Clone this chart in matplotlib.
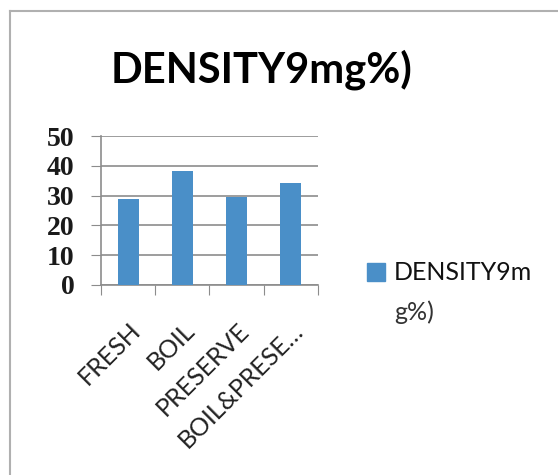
import matplotlib
matplotlib.use("Agg")
import matplotlib.pyplot as plt
from matplotlib.lines import Line2D

categories = ["FRESH", "BOIL", "PRESERVE", "BOIL&PRESE\u2026"]
density = [28.8, 38.4, 29.6, 34.3]
y_ticks = [0, 10, 20, 30, 40, 50]
series_name = "DENSITY9mg%)"

BAR_COLOR = "#4a8fc8"
GRID_COLOR = "#8c8c8c"

fig = plt.figure(figsize=(5.58, 4.75), dpi=100)
fig.patch.set_facecolor("white")

# chart frame: only the left and top edges show
fig.add_artist(Line2D([10 / 558, 10 / 558], [0, 1 - 11 / 475], transform=fig.transFigure,
                      color="#b0b0b0", lw=1.5))
fig.add_artist(Line2D([10 / 558, 1], [1 - 11 / 475, 1 - 11 / 475], transform=fig.transFigure,
                      color="#b0b0b0", lw=1.5))

ax = fig.add_axes([101 / 558, 1 - 285 / 475, 217 / 558, 149 / 475])
x = list(range(len(categories)))
ax.bar(x, density, width=0.39, color=BAR_COLOR, zorder=3)

ax.set_xlim(-0.5, len(categories) - 0.5)
ax.set_ylim(0, 50)
ax.set_yticks(y_ticks)
ax.set_yticklabels([str(v) for v in y_ticks], family="Liberation Serif", fontsize=20,
                   fontweight="bold", color="#1a1a1a")
ax.tick_params(axis="y", length=7, color=GRID_COLOR, pad=12)
ax.yaxis.grid(True, color=GRID_COLOR, lw=1.2, zorder=0)

# category boundaries carry the tick marks; names sit at the centres
ax.set_xticks([i - 0.5 for i in range(len(categories) + 1)])
ax.set_xticklabels([])
ax.tick_params(axis="x", which="major", length=7, color=GRID_COLOR)
ax.set_xticks(x, minor=True)
ax.set_xticklabels(categories, minor=True, rotation=45, ha="right", va="top",
                   rotation_mode="anchor", family="Lato", fontsize=18, color="#222222")
ax.tick_params(axis="x", which="minor", length=0, pad=24)

for side in ("top", "right"):
    ax.spines[side].set_visible(False)
for side in ("left", "bottom"):
    ax.spines[side].set_color(GRID_COLOR)
    ax.spines[side].set_linewidth(1.2)

fig.text(262 / 558, 1 - 70 / 475, series_name, ha="center", va="center",
         family="Lato", fontweight="bold", fontsize=30)

# legend drawn by hand so the long name wraps like the source
fig.patches.append(plt.Rectangle((367 / 558, 1 - 281 / 475), 18 / 558, 18 / 475,
                                 transform=fig.transFigure, color=BAR_COLOR))
fig.text(394 / 558, 1 - 272 / 475, "DENSITY9m", ha="left", va="center",
         family="Lato", fontsize=18, color="#111111")
fig.text(394 / 558, 1 - 312 / 475, "g%)", ha="left", va="center",
         family="Lato", fontsize=18, color="#333333")

fig.savefig("out.png", dpi=100)
